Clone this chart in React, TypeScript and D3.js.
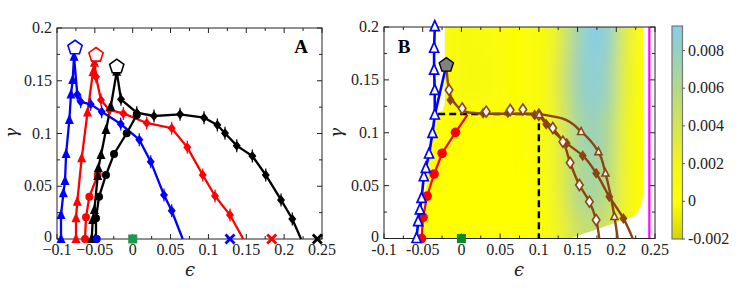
// @ts-nocheck
import * as d3 from 'd3';
import React from 'react';

// ---- shared axes ----
const xTicks = [-0.1, -0.05, 0, 0.05, 0.1, 0.15, 0.2, 0.25];
const xTickLabelsA = ['−0.1', '−0.05', '0', '0.05', '0.1', '0.15', '0.2', '0.25'];
const xTickLabelsB = ['-0.1', '-0.05', '0', '0.05', '0.1', '0.15', '0.2', '0.25'];
const yTicks = [0, 0.05, 0.1, 0.15, 0.2];
const yTickLabels = ['0', '0.05', '0.1', '0.15', '0.2'];

// ---- panel A ----
const blueTrianglesA = [[-0.0947, 0], [-0.0947, 0.0227], [-0.0916, 0.0433], [-0.0894, 0.055], [-0.088, 0.0805], [-0.0837, 0.1128], [-0.0815, 0.137], [-0.0793, 0.1507], [-0.0775, 0.1728]];
const blueDiamondsA = [[-0.0732, 0.137], [-0.0687, 0.13], [-0.0555, 0.1277], [-0.041, 0.1207], [-0.0158, 0.109], [0.0087, 0.0941], [0.0238, 0.0733], [0.0413, 0.0417], [0.0515, 0.0268]];
const blueEndA = [0.066, 0];
const redTrianglesA = [[-0.0749, 0], [-0.0749, 0.0196], [-0.0732, 0.0354], [-0.0674, 0.0765], [-0.0597, 0.12], [-0.0525, 0.158], [-0.0505, 0.167]];
const redDiamondsA = [[-0.0485, 0.1538], [-0.0419, 0.1318], [-0.0309, 0.1223], [-0.0124, 0.119], [0.0185, 0.11], [0.0515, 0.105], [0.0721, 0.0869], [0.0925, 0.0607], [0.1087, 0.0408], [0.1285, 0.0227]];
const redEndA = [0.146, 0];
const redCirclesA = [[-0.063, 0], [-0.0617, 0.0206], [-0.0573, 0.04], [-0.0462, 0.0607]];
const blackTrianglesA = [[-0.0542, 0], [-0.0528, 0.018], [-0.0507, 0.0275], [-0.0462, 0.0597], [-0.0454, 0.067], [-0.0419, 0.0796], [-0.0353, 0.1033], [-0.029, 0.1254], [-0.0211, 0.1586]];
const blackCirclesA = [[-0.0485, 0], [-0.0485, 0.0196], [-0.0445, 0.04], [-0.0353, 0.0607], [-0.0247, 0.0806], [-0.0079, 0.1002], [0.0053, 0.1175]];
const blackDiamondsA = [[-0.0155, 0.1324], [0.0053, 0.1197], [0.0281, 0.1166], [0.0625, 0.1182], [0.0942, 0.115], [0.1118, 0.108], [0.1219, 0.1002], [0.1374, 0.0885], [0.158, 0.0787], [0.1757, 0.0607], [0.1959, 0.037], [0.2108, 0.019]];
const blackEndA = [0.2223, 0];
const pentagonsA = [
  { p: [-0.0762, 0.1813], c: '#0000ff' },
  { p: [-0.0485, 0.1744], c: '#ff0000' },
  { p: [-0.0211, 0.1633], c: '#000000' },
];
const blueCircleA = [-0.0475, 0];
const crossesA = [
  { e: 0.1285, c: '#0000ff' },
  { e: 0.1836, c: '#ff0000' },
  { e: 0.2438, c: '#000000' },
];

// ---- panel B ----
const blueTrianglesB = [[-0.058, 0], [-0.0559, 0.0159], [-0.0537, 0.027], [-0.0515, 0.038], [-0.0486, 0.0584], [-0.046, 0.0664], [-0.0418, 0.0799], [-0.0374, 0.0995], [-0.0344, 0.1168], [-0.0345, 0.14], [-0.0353, 0.1593], [-0.0353, 0.1799], [-0.0344, 0.2003]];
const pentagonB = [-0.0195, 0.164];
const redCirclesB = [[-0.0515, 0], [-0.0495, 0.02], [-0.0443, 0.0402], [-0.0353, 0.061], [-0.025, 0.0806], [-0.0077, 0.1004]];
const redEndB = [0.0077, 0.1168];
const plateauB = [[-0.0195, 0.164], [-0.017, 0.145], [-0.013, 0.133], [-0.006, 0.1255], [0.003, 0.1205], [0.02, 0.1185], [0.05, 0.118], [0.08, 0.118], [0.1, 0.1175]];
const branchOpenB = [[0.1, 0.1175], [0.106, 0.113], [0.118, 0.1045], [0.131, 0.0915], [0.1404, 0.0717], [0.1524, 0.0506], [0.1653, 0.0348], [0.174, 0.0175], [0.178, 0]];
const branchFilledB = [[0.1, 0.1175], [0.1095, 0.108], [0.136, 0.09], [0.1567, 0.0783], [0.174, 0.0617], [0.191, 0.0395], [0.2092, 0.019], [0.2212, 0]];
const branchTriB = [[0.1, 0.1178], [0.13, 0.1135], [0.1546, 0.101], [0.177, 0.082], [0.186, 0.0617], [0.1976, 0.0206], [0.2018, 0]];
const openDiamondsB = [[-0.016, 0.1404], [0.001, 0.123], [0.032, 0.12], [0.063, 0.1215], [0.0794, 0.122], [0.1, 0.117], [0.118, 0.1045], [0.131, 0.0915], [0.1404, 0.0717], [0.1524, 0.0506], [0.1653, 0.0348], [0.174, 0.0175]];
const filledDiamondsB = [[-0.0142, 0.131], [0.028, 0.1184], [0.06, 0.119], [0.0945, 0.1168], [0.1095, 0.108], [0.136, 0.09], [0.1567, 0.0783], [0.174, 0.0617], [0.191, 0.0395], [0.2092, 0.019]];
const openTrianglesBrownB = [[0.1005, 0.117], [0.1546, 0.101], [0.177, 0.082], [0.186, 0.0617], [0.1976, 0.0206]];
const dashCorner = [0.1, 0.1178];
const dashStartEps = -0.03;
const magentaEps = 0.2427;

// heat field (rows from gamma 0.2 down to 0, columns at heatEps)
const heatEps = [-0.05, -0.03, -0.01, 0.01, 0.03, 0.05, 0.07, 0.09, 0.11, 0.13, 0.15, 0.17, 0.19, 0.21, 0.23, 0.25];
const heatGamma = [0.2, 0.15, 0.1, 0.05, 0];
const heatRow020 = [0, 0.0005, 0.001, 0.0012, 0.001, 0.0006, 0.0003, 0.0005, 0.0012, 0.0035, 0.0072, 0.0093, 0.0082, 0.0035, 0.0005, 0];
const heatRow015 = [0, 0.0005, 0.001, 0.0013, 0.0011, 0.0006, 0.0003, 0.0005, 0.0012, 0.004, 0.0075, 0.0088, 0.0074, 0.003, 0.0004, 0];
const heatRow010 = [0, 0, 0, 0, 0, 0, 0.0002, 0.0005, 0.0012, 0.0035, 0.0066, 0.0078, 0.0062, 0.0025, 0.0003, 0];
const heatRow005 = [0, 0, 0, 0, 0, 0, 0, 0.0003, 0.001, 0.0032, 0.006, 0.007, 0.0056, 0.0022, 0.0003, 0];
const heatRow000 = [0, 0, 0, 0, 0, 0, 0, 0.0002, 0.0008, 0.0025, 0.0045, 0.005, 0.004, 0.0018, 0.0002, 0];
const heatRows = [heatRow020, heatRow015, heatRow010, heatRow005, heatRow000];
const heatRegion = [[-0.0215, 0.2], [0.235, 0.2], [0.235, 0.045], [0.233, 0.033], [0.228, 0.025], [0.22, 0.02], [0.14, 0], [-0.05, 0], [-0.047, 0.04], [-0.041, 0.08], [-0.034, 0.118], [-0.024, 0.121], [-0.0215, 0.128]];

// colour bar
const cbStops = [-0.002, 0, 0.002, 0.004, 0.006, 0.008, 0.0093];
const cbColors = ['#d4d400', '#ffff00', '#f2f61a', '#d4e452', '#b2d98a', '#95d0c4', '#87ceeb'];
const cbTicks = [-0.002, 0, 0.002, 0.004, 0.006, 0.008];
const cbTickLabels = ['-0.002', '0', '0.002', '0.004', '0.006', '0.008'];

const FONT = "'Liberation Serif', 'Times New Roman', serif";
const SYM = "'DejaVu Serif', serif";
const FS = 16;

const tri = (w, h) => `M0,${-h * 0.6}L${w / 2},${h * 0.4}L${-w / 2},${h * 0.4}Z`;
const dia = (w, h) => `M0,${-h / 2}L${w / 2},0L0,${h / 2}L${-w / 2},0Z`;
const pent = (r) =>
  d3.range(5).map((k) => {
    const a = -Math.PI / 2 + (k * 2 * Math.PI) / 5;
    return [r * Math.cos(a), r * Math.sin(a)];
  }).map((p, i) => `${i ? 'L' : 'M'}${p[0].toFixed(2)},${p[1].toFixed(2)}`).join('') + 'Z';

function Frame({ x, y, xLabels }) {
  const [x0, x1] = x.range();
  const [y0, y1] = y.range();
  const minorX = d3.range(-0.1, 0.2501, 0.025);
  const minorY = d3.range(0, 0.2001, 0.025);
  const stroke = '#222';
  return (
    <g>
      <rect x={x0} y={y1} width={x1 - x0} height={y0 - y1} fill="none" stroke={stroke} strokeWidth={1} />
      {minorX.map((t, i) => {
        const len = i % 2 === 0 ? 5 : 3;
        return (
          <g key={'mx' + i}>
            <line x1={x(t)} x2={x(t)} y1={y0} y2={y0 - len} stroke={stroke} />
            <line x1={x(t)} x2={x(t)} y1={y1} y2={y1 + len} stroke={stroke} />
          </g>
        );
      })}
      {minorY.map((t, i) => {
        const len = i % 2 === 0 ? 5 : 3;
        return (
          <g key={'my' + i}>
            <line x1={x0} x2={x0 + len} y1={y(t)} y2={y(t)} stroke={stroke} />
            <line x1={x1} x2={x1 - len} y1={y(t)} y2={y(t)} stroke={stroke} />
          </g>
        );
      })}
      {xTicks.map((t, i) => (
        <text key={'xl' + i} x={x(t)} y={y0 + 16} textAnchor="middle" fontSize={FS} fontFamily={FONT} fill="#222">
          {xLabels[i]}
        </text>
      ))}
      {yTicks.map((t, i) => (
        <text key={'yl' + i} x={x0 - 5} y={y(t) + (i === 0 ? 3 : 5)} textAnchor="end" fontSize={FS} fontFamily={FONT} fill="#222">
          {yTickLabels[i]}
        </text>
      ))}
    </g>
  );
}

export default function App() {
  const xA = d3.scaleLinear().domain([-0.1, 0.25]).range([57, 322]);
  const yA = d3.scaleLinear().domain([0, 0.2]).range([239, 28]);
  const xB = d3.scaleLinear().domain([-0.1, 0.25]).range([384, 655]);
  const yB = d3.scaleLinear().domain([0, 0.2]).range([238.5, 27]);
  const yC = d3.scaleLinear().domain([-0.002, 0.0093]).range([239, 26]);
  const color = d3.scaleLinear().domain(cbStops).range(cbColors).interpolate(d3.interpolateRgb).clamp(true);

  const lineA = d3.line().x((d) => xA(d[0])).y((d) => yA(d[1]));
  const lineB = d3.line().x((d) => xB(d[0])).y((d) => yB(d[1]));
  const smoothB = d3.line().x((d) => xB(d[0])).y((d) => yB(d[1])).curve(d3.curveMonotoneY);
  const smoothPlateau = d3.line().x((d) => xB(d[0])).y((d) => yB(d[1])).curve(d3.curveCatmullRom);

  const at = (sx, sy, d) => `translate(${sx(d[0])},${sy(d[1])})`;

  const diamondsA = (pts, c, key) =>
    pts.map((d, i) => (
      <g key={key + i} transform={at(xA, yA, d)}>
        <line y1={-6.5} y2={6.5} stroke={c} strokeWidth={1.2} />
        <path d={dia(8, 10)} fill={c} />
      </g>
    ));
  const trianglesA = (pts, c, key) =>
    pts.map((d, i) => <path key={key + i} d={tri(9, 10)} transform={at(xA, yA, d)} fill={c} />);
  const circlesA = (pts, c, key) =>
    pts.map((d, i) => <circle key={key + i} r={4} cx={xA(d[0])} cy={yA(d[1])} fill={c} />);

  const colW = xB(0.02) - xB(0);
  const rowH = yB(0) - yB(0.05);

  return (
    <div style={{ position: 'absolute', left: 0, top: 0 }}>
      <svg width={747} height={298} style={{ display: 'block', background: '#fff' }}>
        <defs>
          <filter id="heatBlur" x="-20%" y="-20%" width="140%" height="140%">
            <feGaussianBlur stdDeviation="7 13" />
          </filter>
          <clipPath id="heatClip">
            <path d={lineB(heatRegion) + 'Z'} />
          </clipPath>
          <linearGradient id="cbGrad" x1="0" y1="1" x2="0" y2="0">
            {cbStops.map((s, i) => (
              <stop key={i} offset={(s - cbStops[0]) / (cbStops[cbStops.length - 1] - cbStops[0])} stopColor={cbColors[i]} />
            ))}
          </linearGradient>
        </defs>

        {/* ---------- Panel A ---------- */}
        <Frame x={xA} y={yA} xLabels={xTickLabelsA} />
        <path d={lineA([...blueTrianglesA, ...blueDiamondsA, blueEndA])} fill="none" stroke="#0000ff" strokeWidth={2.3} />
        <path d={lineA([...redTrianglesA, ...redDiamondsA, redEndA])} fill="none" stroke="#ff0000" strokeWidth={2.3} />
        <path d={lineA(redCirclesA)} fill="none" stroke="#ff0000" strokeWidth={2.3} />
        <path d={lineA([...blackTrianglesA, ...blackDiamondsA, blackEndA])} fill="none" stroke="#000" strokeWidth={2.3} />
        <path d={lineA(blackCirclesA)} fill="none" stroke="#000" strokeWidth={2.3} />
        {trianglesA(blueTrianglesA, '#0000ff', 'bt')}
        {diamondsA(blueDiamondsA, '#0000ff', 'bd')}
        {trianglesA(redTrianglesA, '#ff0000', 'rt')}
        {diamondsA(redDiamondsA, '#ff0000', 'rd')}
        {circlesA(redCirclesA, '#ff0000', 'rc')}
        {trianglesA(blackTrianglesA, '#000', 'kt')}
        {circlesA(blackCirclesA, '#000', 'kc')}
        {diamondsA(blackDiamondsA, '#000', 'kd')}
        <circle cx={xA(blueCircleA[0])} cy={yA(blueCircleA[1])} r={4} fill="#0000ff" />
        {pentagonsA.map((p, i) => (
          <path key={'pa' + i} d={pent(7.5)} transform={at(xA, yA, p.p)} fill="#fff" stroke={p.c} strokeWidth={1.6} />
        ))}
        {crossesA.map((c, i) => (
          <path key={'xa' + i} d="M-4.5,-4.5L4.5,4.5M-4.5,4.5L4.5,-4.5" transform={at(xA, yA, [c.e, 0])} stroke={c.c} strokeWidth={2.8} />
        ))}
        <rect x={xA(0) - 4.5} y={yA(0) - 4.5} width={9} height={9} fill="#1a9850" />
        <text x={301} y={53} textAnchor="middle" fontSize={19} fontWeight="bold" fontFamily={FONT}>A</text>
        <text x={190} y={276} textAnchor="middle" fontSize={18} fontStyle="italic" fontFamily={SYM} fill="#222">ϵ</text>
        <text transform="translate(17,133) rotate(-90)" textAnchor="middle" fontSize={17} fontStyle="italic" fontFamily={SYM} fill="#222">γ</text>

        {/* ---------- Panel B ---------- */}
        <g clipPath="url(#heatClip)">
          <g filter="url(#heatBlur)">
            {heatRows.map((row, r) =>
              row.map((v, c) => {
                const g = heatGamma[r];
                const top = r === 0 ? yB(0.27) : yB(g) - rowH / 2;
                const bot = r === heatRows.length - 1 ? yB(-0.07) : yB(g) + rowH / 2;
                return (
                  <rect key={`h${r}-${c}`} x={xB(heatEps[c]) - colW / 2} y={top} width={colW + 0.5} height={bot - top + 0.5} fill={color(v)} />
                );
              })
            )}
          </g>
        </g>
        <line x1={xB(magentaEps)} x2={xB(magentaEps)} y1={yB(0)} y2={yB(0.2)} stroke="#ff00ff" strokeWidth={2.2} />
        <Frame x={xB} y={yB} xLabels={xTickLabelsB} />

        <path d={lineB([[dashStartEps, dashCorner[1]], dashCorner, [dashCorner[0], 0]])} fill="none" stroke="#000" strokeWidth={2.4} strokeDasharray="7,4" />

        <path d={smoothPlateau(plateauB)} fill="none" stroke="#8b4513" strokeWidth={2.4} />
        <path d={smoothB(branchOpenB)} fill="none" stroke="#8b4513" strokeWidth={2.4} />
        <path d={smoothB(branchFilledB)} fill="none" stroke="#8b4513" strokeWidth={2.4} />
        <path d={smoothB(branchTriB)} fill="none" stroke="#8b4513" strokeWidth={2.4} />

        {filledDiamondsB.map((d, i) => (
          <path key={'fd' + i} d={dia(8, 11)} transform={at(xB, yB, d)} fill="#8b4513" />
        ))}
        {openDiamondsB.map((d, i) => (
          <path key={'od' + i} d={dia(7.5, 11)} transform={at(xB, yB, d)} fill="#fff" stroke="#8b4513" strokeWidth={1.6} />
        ))}
        {openTrianglesBrownB.map((d, i) => (
          <path key={'ot' + i} d={tri(7, 7)} transform={at(xB, yB, d)} fill="#fff" stroke="#8b4513" strokeWidth={1.6} />
        ))}

        <path d={lineB([...redCirclesB, redEndB])} fill="none" stroke="#ff0000" strokeWidth={2.2} />
        {redCirclesB.map((d, i) => (
          <circle key={'rcb' + i} cx={xB(d[0])} cy={yB(d[1])} r={4.8} fill="#ff0000" />
        ))}

        <path d={lineB(blueTrianglesB)} fill="none" stroke="#0000ff" strokeWidth={2.6} />
        <path d={lineB([blueTrianglesB[8], pentagonB])} fill="none" stroke="#0000ff" strokeWidth={2.6} />
        {blueTrianglesB.map((d, i) => (
          <path key={'btb' + i} d={tri(9, 10)} transform={at(xB, yB, d)} fill="#fff" stroke="#0000ff" strokeWidth={1.7} />
        ))}
        <path d={pent(7.5)} transform={at(xB, yB, pentagonB)} fill="#808080" stroke="#000" strokeWidth={1.4} />
        <rect x={xB(0) - 4.5} y={yB(0) - 4.5} width={9} height={9} fill="#0a8a2a" />

        <text x={404} y={53} textAnchor="middle" fontSize={19} fontWeight="bold" fontFamily={FONT}>B</text>
        <text x={519} y={276} textAnchor="middle" fontSize={18} fontStyle="italic" fontFamily={SYM} fill="#222">ϵ</text>
        <text transform="translate(342,133) rotate(-90)" textAnchor="middle" fontSize={17} fontStyle="italic" fontFamily={SYM} fill="#222">γ</text>

        {/* ---------- colour bar ---------- */}
        <rect x={672} y={yC(0.0093)} width={10.5} height={yC(-0.002) - yC(0.0093)} fill="url(#cbGrad)" stroke="#777" strokeWidth={1.2} />
        {cbTicks.map((t, i) => (
          <g key={'cb' + i}>
            <line x1={682.5} x2={685} y1={yC(t)} y2={yC(t)} stroke="#555" />
            <text x={688} y={yC(t) + 5} fontSize={FS} fontFamily={FONT} fill="#222">{cbTickLabels[i]}</text>
          </g>
        ))}
      </svg>
    </div>
  );
}
